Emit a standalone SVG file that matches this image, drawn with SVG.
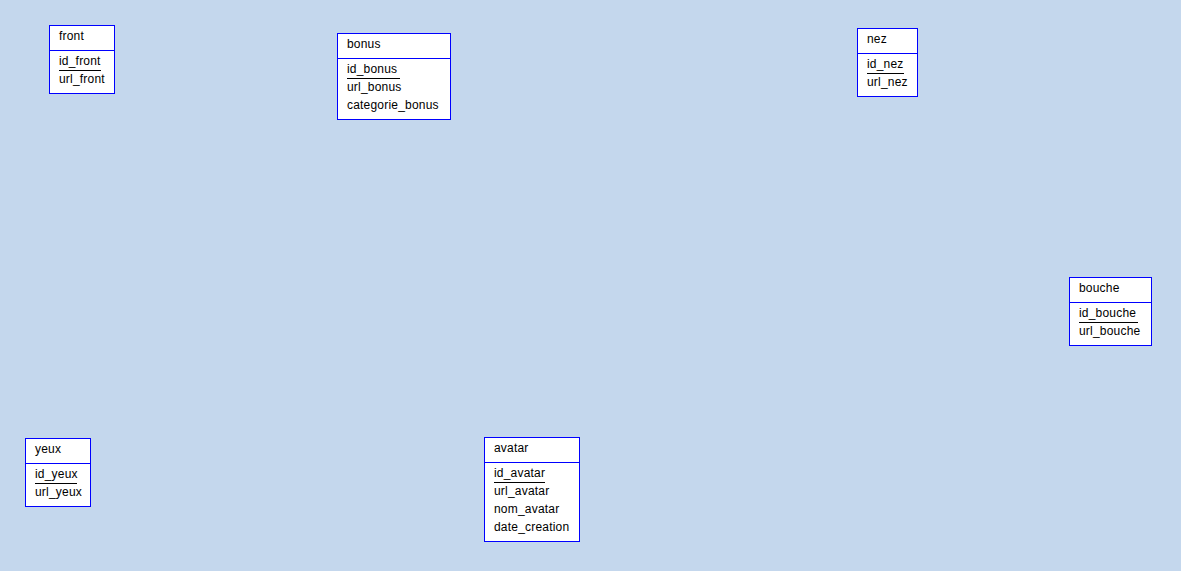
<svg xmlns="http://www.w3.org/2000/svg" width="1181" height="571" viewBox="0 0 1181 571">
<style>
.box{fill:#fff;stroke:#0000ff;stroke-width:1}
.sep{stroke:#0000ff;stroke-width:1}
.ul{stroke:#000;stroke-width:1}
text{font-family:"Liberation Sans",Arial,sans-serif;font-size:12px;letter-spacing:0.2px;fill:#000}
</style>
<rect width="1181" height="571" fill="#c4d7ed"/>
<g id="connectors"></g>
<g id="front">
<rect class="box" x="49.5" y="25.5" width="65" height="68"/>
<line class="sep" x1="49.5" y1="50.5" x2="114.5" y2="50.5"/>
<text x="59" y="40">front</text>
<text x="59" y="65">id_front</text>
<line class="ul" x1="59" y1="70.5" x2="101" y2="70.5"/>
<text x="59" y="83">url_front</text>
</g>
<g id="bonus">
<rect class="box" x="337.5" y="33.5" width="113" height="86"/>
<line class="sep" x1="337.5" y1="58.5" x2="450.5" y2="58.5"/>
<text x="347" y="48">bonus</text>
<text x="347" y="73">id_bonus</text>
<line class="ul" x1="347" y1="78.5" x2="400" y2="78.5"/>
<text x="347" y="91">url_bonus</text>
<text x="347" y="109">categorie_bonus</text>
</g>
<g id="nez">
<rect class="box" x="857.5" y="28.5" width="60" height="68"/>
<line class="sep" x1="857.5" y1="53.5" x2="917.5" y2="53.5"/>
<text x="867" y="43">nez</text>
<text x="867" y="68">id_nez</text>
<line class="ul" x1="867" y1="73.5" x2="904" y2="73.5"/>
<text x="867" y="86">url_nez</text>
</g>
<g id="bouche">
<rect class="box" x="1069.5" y="277.5" width="82" height="68"/>
<line class="sep" x1="1069.5" y1="302.5" x2="1151.5" y2="302.5"/>
<text x="1079" y="292">bouche</text>
<text x="1079" y="317">id_bouche</text>
<line class="ul" x1="1079" y1="322.5" x2="1138" y2="322.5"/>
<text x="1079" y="335">url_bouche</text>
</g>
<g id="yeux">
<rect class="box" x="25.5" y="438.5" width="65" height="68"/>
<line class="sep" x1="25.5" y1="463.5" x2="90.5" y2="463.5"/>
<text x="35" y="453">yeux</text>
<text x="35" y="478">id_yeux</text>
<line class="ul" x1="35" y1="483.5" x2="77" y2="483.5"/>
<text x="35" y="496">url_yeux</text>
</g>
<g id="avatar">
<rect class="box" x="484.5" y="437.5" width="95" height="104"/>
<line class="sep" x1="484.5" y1="462.5" x2="579.5" y2="462.5"/>
<text x="494" y="452">avatar</text>
<text x="494" y="477">id_avatar</text>
<line class="ul" x1="494" y1="482.5" x2="545" y2="482.5"/>
<text x="494" y="495">url_avatar</text>
<text x="494" y="513">nom_avatar</text>
<text x="494" y="531">date_creation</text>
</g>
</svg>
